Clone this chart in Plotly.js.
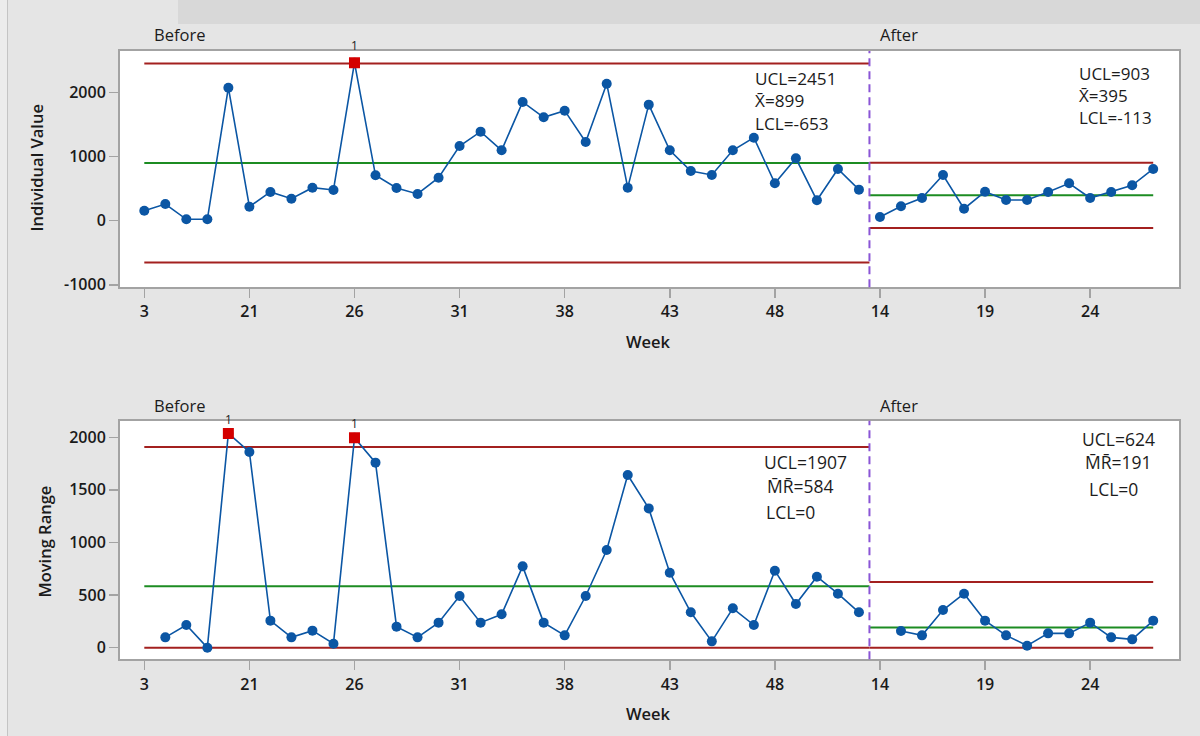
<!DOCTYPE html>
<html>
<head>
<meta charset="utf-8">
<script src="https://cdn.plot.ly/plotly-3.0.1.min.js"></script>
<style>
  html, body { margin: 0; padding: 0; background: #e5e5e5; }
  #chart { width: 1200px; height: 736px; }
</style>
</head>
<body>
<div id="chart"></div>
<script>
// ---------- data ----------
const weekTickLabels = ['3', '21', '26', '31', '38', '43', '48', '14', '19', '24'];
const stageNames = ['Before', 'After'];

const indivBefore = [156, 260, 22, 22, 2075, 218, 448, 343, 515, 479, 2465, 708, 510, 417, 671,
  1165, 1389, 1098, 1852, 1613, 1716, 1228, 2137, 515, 1810, 1098, 775, 713, 1098, 1295,
  583, 973, 318, 807, 484];
const indivAfter = [58, 224, 354, 713, 187, 452, 323, 323, 448, 583, 354, 448, 552, 807];

const mrBefore = [null, 98, 215, 0, 2037, 1860, 257, 98, 162, 38, 1996, 1759, 200, 98, 238,
  491, 238, 317, 773, 238, 117, 491, 928, 1641, 1324, 713, 336, 60, 374, 215,
  732, 415, 675, 513, 336];
const mrAfter = [null, 158, 117, 358, 513, 257, 117, 19, 136, 136, 238, 98, 79, 257];

const indivUCL = [2451, 903];
const indivCL = [899, 395];
const indivLCL = [-653, -113];
const mrUCL = [1907, 624];
const mrCL = [584, 191];
const mrLCL = [0, 0];

// ---------- styling ----------
const FONT = 'Open Sans, Noto Sans, sans-serif';
const BLUE = '#0b56a4';
const RED_PT = '#d40000';
const LIMIT = '#a3201f';
const CENTER = '#1c8c22';
const DASH = '#8a55d6';
const AXISGRAY = '#a3a3a3';

const nB = indivBefore.length;
const nA = indivAfter.length;
const xBefore = indivBefore.map((_, i) => i);
const xAfter = indivAfter.map((_, i) => nB + i);
const boundary = nB - 0.5;
const lastX = nB + nA - 1;

const traces = [];
const annotations = [];

function panel(xa, ya, before, after, ucl, cl, lcl, yref, shift) {
  const segs = [[0, boundary, 0], [boundary, lastX, 1]];
  segs.forEach(([a, b, k]) => {
    [[ucl[k], LIMIT], [lcl[k], LIMIT], [cl[k], CENTER]].forEach(([v, c]) => {
      traces.push({ x: [a, b], y: [v, v], xaxis: xa, yaxis: ya, mode: 'lines',
        line: { color: c, width: 2 }, hoverinfo: 'skip', showlegend: false });
    });
  });
  [[xBefore, before, 0], [xAfter, after, 1]].forEach(([xs, ys, k]) => {
    traces.push({ x: xs, y: ys, xaxis: xa, yaxis: ya, mode: 'lines+markers',
      line: { color: BLUE, width: 1.6 }, marker: { color: BLUE, size: 10 },
      showlegend: false, connectgaps: false });
    const ox = [], oy = [];
    ys.forEach((v, i) => { if (v !== null && (v > ucl[k] || v < lcl[k])) { ox.push(xs[i]); oy.push(v); } });
    if (ox.length) {
      traces.push({ x: ox, y: oy, xaxis: xa, yaxis: ya, mode: 'markers',
        marker: { color: RED_PT, size: 11, symbol: 'square' }, showlegend: false });
      ox.forEach((x, i) => annotations.push({ x: x, y: oy[i], xref: xa, yref: yref,
        text: '1', showarrow: false, yshift: shift, font: { family: FONT, size: 12, color: '#222' } }));
    }
  });
}

panel('x', 'y', indivBefore, indivAfter, indivUCL, indivCL, indivLCL, 'y', 17);
panel('x2', 'y2', mrBefore, mrAfter, mrUCL, mrCL, mrLCL, 'y2', 14);

// stats text
function txt(px, py, t, size) {
  annotations.push({ x: px / 1200, y: 1 - py / 736, xref: 'paper', yref: 'paper', text: t,
    xanchor: 'left', yanchor: 'middle', align: 'left', showarrow: false,
    font: { family: FONT, size: size || 17.5, color: '#1c1c1c' } });
}
txt(753, 101, 'UCL=' + indivUCL[0] + '<br>X\u0304=' + indivCL[0] + '<br>LCL=' + indivLCL[0], 17.2);
txt(1077, 95, 'UCL=' + indivUCL[1] + '<br>X\u0304=' + indivCL[1] + '<br>LCL=' + indivLCL[1], 17);
txt(762, 462, 'UCL=' + mrUCL[0]);
txt(765, 486, 'M\u0304R\u0304=' + mrCL[0]);
txt(764, 512, 'LCL=' + mrLCL[0]);
txt(1080, 439, 'UCL=' + mrUCL[1]);
txt(1083, 462, 'M\u0304R\u0304=' + mrCL[1]);
txt(1087, 489, 'LCL=' + mrLCL[1]);

// stage labels
[35, 406].forEach((py) => {
  txt(152, py, stageNames[0], 16.5);
  txt(878, py, stageNames[1], 16.5);
});

// axis titles
function title(px, py, t, angle) {
  annotations.push({ x: px / 1200, y: 1 - py / 736, xref: 'paper', yref: 'paper', text: t,
    xanchor: 'center', yanchor: 'middle', showarrow: false, textangle: angle || 0,
    font: { family: FONT, size: 16.5, color: '#1a1a1a', weight: 600 } });
}
title(35.5, 168, 'Individual Value', -90);
title(43.5, 542, 'Moving Range', -90);
title(648, 341, 'Week');
title(648, 713, 'Week');

const tickvals = weekTickLabels.map((_, i) => i * 5);
const xaxisBase = {
  range: [-1.156, 49.25], tickvals: tickvals, ticktext: weekTickLabels,
  showgrid: false, zeroline: false, showline: true, mirror: true, linecolor: AXISGRAY, linewidth: 2,
  ticks: 'outside', ticklen: 9, tickwidth: 1.5, tickcolor: AXISGRAY,
  tickfont: { family: FONT, size: 16, color: '#1a1a1a', weight: 600 },
  domain: [0.1, 0.9829], fixedrange: true
};
const yaxisBase = {
  showgrid: false, zeroline: false, showline: true, mirror: true, linecolor: AXISGRAY, linewidth: 2,
  ticks: 'outside', ticklen: 9, tickwidth: 1.5, tickcolor: AXISGRAY,
  tickfont: { family: FONT, size: 16, color: '#1a1a1a', weight: 600 }, fixedrange: true
};

const layout = {
  width: 1200, height: 736,
  margin: { l: 0, r: 0, t: 0, b: 0 },
  paper_bgcolor: '#e5e5e5', plot_bgcolor: '#ffffff',
  showlegend: false,
  xaxis: Object.assign({}, xaxisBase, { anchor: 'y' }),
  yaxis: Object.assign({}, yaxisBase, { anchor: 'x', domain: [0.60965, 0.93071], range: [-1039, 2647],
    tickvals: [-1000, 0, 1000, 2000], ticktext: ['-1000', '0', '1000', '2000'] }),
  xaxis2: Object.assign({}, xaxisBase, { anchor: 'y2' }),
  yaxis2: Object.assign({}, yaxisBase, { anchor: 'x2', domain: [0.10421, 0.42844], range: [-110.6, 2158],
    tickvals: [0, 500, 1000, 1500, 2000] }),
  shapes: [
    { type: 'rect', xref: 'paper', yref: 'paper', x0: 178 / 1200, x1: 1, y0: 1 - 24 / 736, y1: 1,
      fillcolor: '#d8d8d8', line: { width: 0 }, layer: 'below' },
    { type: 'rect', xref: 'paper', yref: 'paper', x0: 0, x1: 7 / 1200, y0: 0, y1: 1,
      fillcolor: '#ececec', line: { width: 0 }, layer: 'below' },
    { type: 'line', xref: 'paper', yref: 'paper', x0: 7.5 / 1200, x1: 7.5 / 1200, y0: 0, y1: 1,
      line: { color: '#c4c4c4', width: 1 }, layer: 'below' },
    { type: 'line', xref: 'x', yref: 'y domain', x0: boundary, x1: boundary, y0: 0, y1: 1,
      line: { color: DASH, width: 2, dash: '8px,5px' } },
    { type: 'line', xref: 'x2', yref: 'y2 domain', x0: boundary, x1: boundary, y0: 0, y1: 1,
      line: { color: DASH, width: 2, dash: '8px,5px' } }
  ],
  annotations: annotations
};

Plotly.newPlot('chart', traces, layout, { displayModeBar: false, staticPlot: true });
</script>
</body>
</html>
